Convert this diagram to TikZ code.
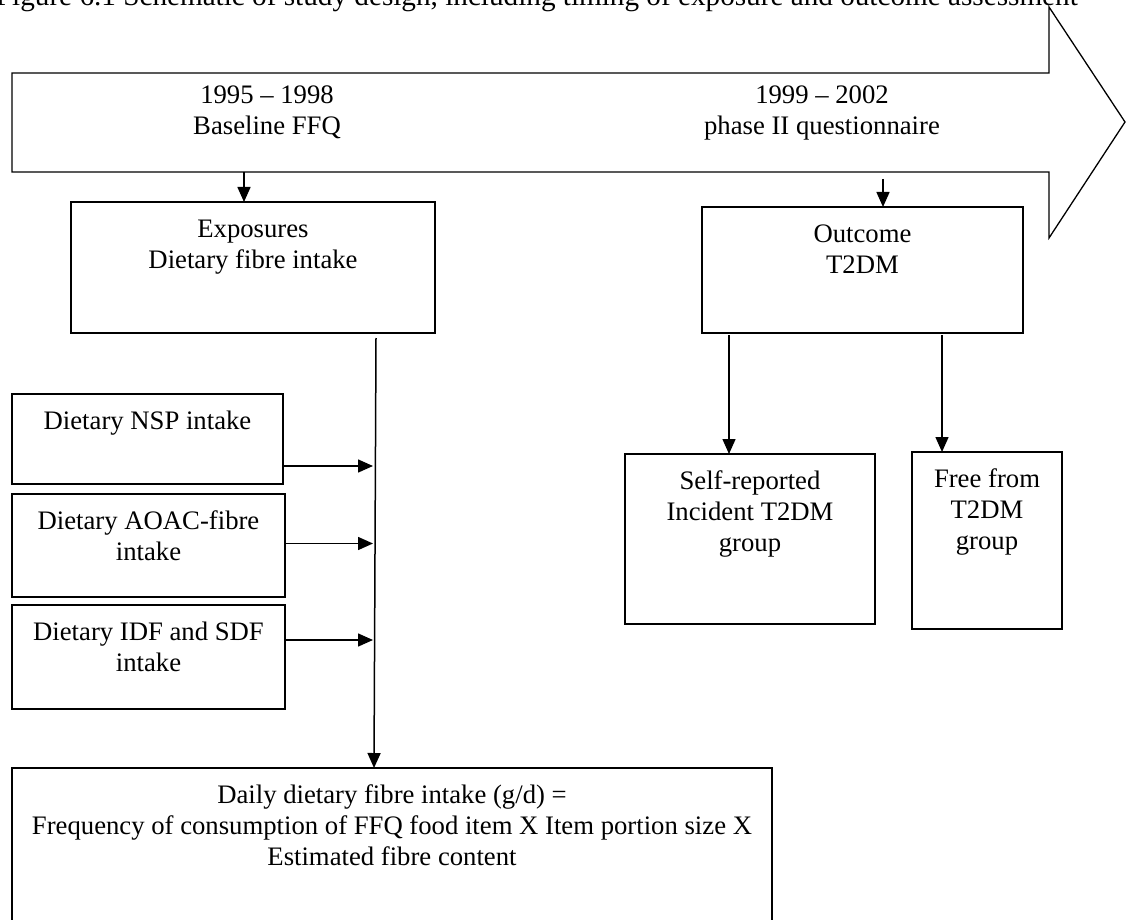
\documentclass[tikz,border=0pt]{standalone}
\usepackage{fontspec}
\setmainfont{Liberation Serif}
\usetikzlibrary{arrows.meta}
\begin{document}
\begin{tikzpicture}[x=1pt,y=-1pt,
  box/.style={draw, line width=1.5pt, inner sep=0pt, outer sep=0pt, anchor=north west},
  txt/.style={font=\fontsize{26.7}{31}\selectfont, align=center, inner sep=0pt, anchor=north},
  captxt/.style={font=\fontsize{29.2}{34}\selectfont, inner sep=0pt, anchor=base east},
  arr/.style={line width=1.5pt, -{Triangle[length=15pt,width=13pt]}},
  bigarrow/.style={draw, line width=1.3pt}]
\useasboundingbox (0,0) rectangle (1129,920);
\clip (0,0) rectangle (1129,920);

% caption (cut off at the top in the reference)
\node[captxt] (cap) at (1078,6) {Figure 6.1 Schematic of study design, including timing of exposure and outcome assessment};

% timeline arrow
\draw[bigarrow] (12,73) -- (1049,73) -- (1049,7) -- (1125,122) -- (1049,238) -- (1049,172) -- (12,172) -- cycle;
\node[txt] (t1) at (267,82) {\strut 1995 -- 1998\\Baseline FFQ};
\node[txt] (t2) at (822,82) {\strut 1999 -- 2002\\phase II questionnaire};
\coordinate (a1) at (244,172);
\coordinate (a2) at (883,179);

% boxes
\node[box, minimum width=364pt, minimum height=131pt] (exp) at (71,202) {};
\node[txt] (expT) at ([yshift=-13.3pt]exp.north) {\strut Exposures\\Dietary fibre intake};

\node[box, minimum width=321pt, minimum height=126pt] (out) at (702,207) {};
\node[txt] (outT) at ([yshift=-13.3pt]out.north) {\strut Outcome\\T2DM};

\node[box, minimum width=250pt, minimum height=170pt] (self) at (625,454) {};
\node[txt] (selfT) at ([yshift=-13.3pt]self.north) {\strut Self-reported\\Incident T2DM\\group};

\node[box, minimum width=150pt, minimum height=177pt] (free) at (912,452) {};
\node[txt] (freeT) at ([yshift=-13.3pt]free.north) {\strut Free from\\T2DM\\group};

\node[box, minimum width=271pt, minimum height=90pt] (nsp) at (12,394) {};
\node[txt] (nspT) at ([yshift=-13.3pt]nsp.north) {\strut Dietary NSP intake};

\node[box, minimum width=273pt, minimum height=103pt] (aoac) at (12,494) {};
\node[txt] (aoacT) at ([yshift=-13.3pt]aoac.north) {\strut Dietary AOAC-fibre\\intake};

\node[box, minimum width=273pt, minimum height=104pt] (idf) at (12,605) {};
\node[txt] (idfT) at ([yshift=-13.3pt]idf.north) {\strut Dietary IDF and SDF\\intake};

\node[box, minimum width=760pt, minimum height=220pt] (bot) at (12,768) {};
\node[txt] (botT) at ([yshift=-13.3pt]bot.north) {\strut Daily dietary fibre intake (g/d) =\\Frequency of consumption of FFQ food item X Item portion size X\\Estimated fibre content};

% connectors
\draw[arr] (a1) -- (a1 |- exp.north);
\draw[arr] (a2) -- (a2 |- out.north);
\draw[arr] ([xshift=-21pt,yshift=-2pt]self.north |- out.south) -- ([xshift=-21pt]self.north);
\draw[arr] ([xshift=-45pt,yshift=-2pt]free.north |- out.south) -- ([xshift=-45pt]free.north);

\coordinate (vtop) at (376,338);
\coordinate (vx) at (373,0);
\draw[arr] (vtop) -- ([xshift=-2pt]vtop |- bot.north);
\draw[arr] ([yshift=-27pt]nsp.east) -- ([yshift=-27pt]nsp.east -| vx);
\draw[arr] ([yshift=2pt]aoac.east) -- ([yshift=2pt]aoac.east -| vx);
\draw[arr] ([yshift=17pt]idf.east) -- ([yshift=17pt]idf.east -| vx);
\end{tikzpicture}
\end{document}
